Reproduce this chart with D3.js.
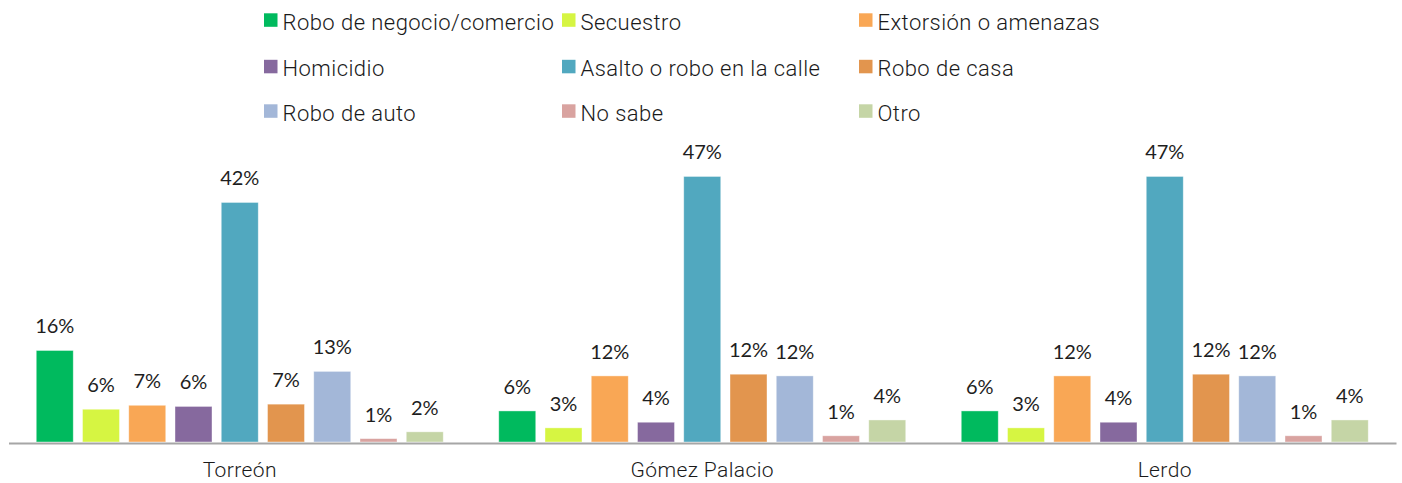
<!DOCTYPE html>
<html><head><meta charset="utf-8">
<script src="https://cdn.jsdelivr.net/npm/d3@7"></script>
<style>
html,body{margin:0;padding:0;background:#fff;}
svg{display:block;}
</style></head>
<body>
<svg id="chart" width="1402" height="483"></svg>
<script>
const cities = ["Torreón", "Gómez Palacio", "Lerdo"];
const series = ["Robo de negocio/comercio", "Secuestro", "Extorsión o amenazas",
  "Homicidio", "Asalto o robo en la calle", "Robo de casa",
  "Robo de auto", "No sabe", "Otro"];
const colors = ["#00BA5E", "#D6F542", "#F9A755", "#86699E", "#51A8BF", "#E2954E", "#A3B7D8", "#D9A3A0", "#C5D5A6"];
const torreon = [16.2, 5.8, 6.5, 6.3, 42.4, 6.7, 12.5, 0.6, 1.8];
const gomezPalacio = [5.5, 2.5, 11.7, 3.5, 47.0, 12.0, 11.7, 1.1, 3.9];
const lerdo = [5.5, 2.5, 11.7, 3.5, 47.0, 12.0, 11.7, 1.1, 3.9];
const valuesByCity = [torreon, gomezPalacio, lerdo];

const svg = d3.select("#chart");
const baseY = 442;
const y = d3.scaleLinear().domain([0, 50]).range([baseY, baseY - 282.5]);
const x0 = d3.scaleBand().domain(cities).range([8.5, 1396]).padding(0);
const x1 = d3.scaleBand().domain(series).range([0, x0.bandwidth()]).paddingInner(0.2).paddingOuter(0.6);
const color = d3.scaleOrdinal().domain(series).range(colors);

const data = cities.map((c, i) => ({city: c, vals: series.map((s, j) => ({s, v: valuesByCity[i][j]}))}));

const g = svg.append("g");
const groups = g.selectAll("g.city").data(data).join("g")
  .attr("transform", d => `translate(${x0(d.city)},0)`);

groups.selectAll("rect").data(d => d.vals).join("rect")
  .attr("x", d => x1(d.s))
  .attr("y", d => y(d.v))
  .attr("width", x1.bandwidth())
  .attr("height", d => baseY - y(d.v))
  .attr("fill", d => color(d.s))
  .attr("stroke", "#ffffff").attr("stroke-width", 0.8).attr("stroke-opacity", 0.5);

groups.selectAll("text.lbl").data(d => d.vals).join("text")
  .attr("class", "lbl")
  .attr("x", d => x1(d.s) + x1.bandwidth() / 2)
  .attr("y", d => y(d.v) - 17)
  .attr("text-anchor", "middle")
  .style("font-family", "Lato, 'Open Sans', sans-serif")
  .style("font-size", "20px")
  .attr("fill", "#1e1e1e")
  .text(d => Math.round(d.v) + "%");

// axis
const xAxis = d3.axisBottom(x0).tickSize(0).tickPadding(0);
const ax = svg.append("g").attr("transform", `translate(0,${baseY + 1})`).call(xAxis);
ax.select(".domain").attr("stroke", "#a6a6a6").attr("stroke-width", 2);
ax.selectAll("text")
  .attr("y", 34).attr("dy", null)
  .style("font-family", "Roboto, 'Liberation Sans', sans-serif")
  .style("font-weight", "300")
  .style("font-size", "21px")
  .style("letter-spacing", "0.4px")
  .attr("fill", "#1a1a1a");

// legend
const legCols = [264, 562, 859];
const legRows = [29.5, 76, 120.5];
const leg = svg.append("g");
const items = leg.selectAll("g").data(series).join("g")
  .attr("transform", (d, i) => `translate(${legCols[i % 3]},${legRows[Math.floor(i / 3)]})`);
items.append("rect").attr("x", 0).attr("y", -16.2).attr("width", 13.5).attr("height", 13.5)
  .attr("fill", d => color(d));
items.append("text").attr("x", 18.5).attr("y", 0)
  .style("font-family", "Roboto, 'Liberation Sans', sans-serif")
  .style("font-weight", "300")
  .style("font-size", "22px")
  .style("letter-spacing", "0.45px")
  .attr("fill", "#1a1a1a")
  .text(d => d);
</script>
</body></html>
